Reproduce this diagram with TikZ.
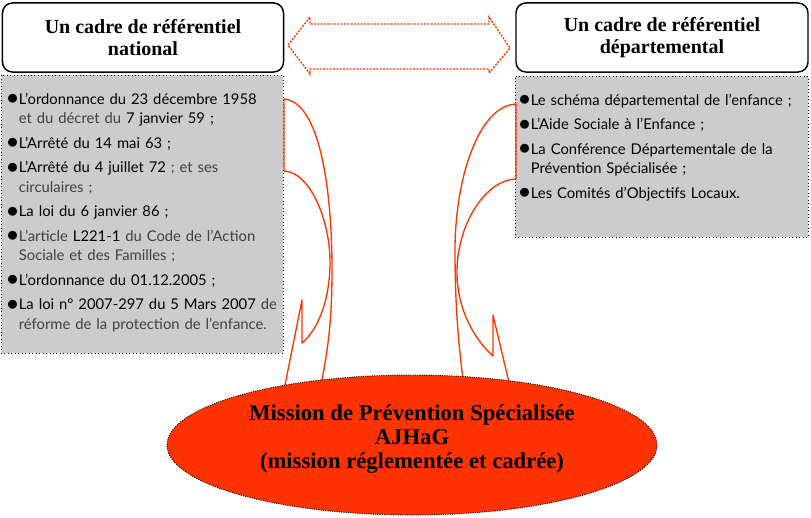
\documentclass[tikz,border=0pt]{standalone}
\usepackage{fontspec}
\setmainfont{Liberation Serif}
\newfontfamily\gillfont{Lato}
\usetikzlibrary{positioning,shapes.geometric}
\definecolor{calred}{RGB}{255,51,0}
\definecolor{lgray}{RGB}{204,204,204}
\definecolor{tgray}{RGB}{64,64,64}
\newcommand{\litem}[1]{\par\hangindent=9pt\hangafter=1\noindent\makebox[9pt][l]{\fontsize{16}{16}\selectfont\raisebox{-0.6pt}{$\bullet$}}#1}
\tikzset{
  hbox/.style={draw=black, line width=1.1pt, rounded corners=7.5pt, fill=white, align=center,
    font=\fontsize{15}{16.5}\selectfont\bfseries},
  lbox/.style={draw=black, dotted, fill=lgray, line width=0.6pt, inner sep=0pt},
  ltxt/.style={anchor=north west, inner sep=0pt, text width=#1, align=left,
    font=\gillfont\fontsize{11.1}{14.6}\selectfont\setlength{\parskip}{3.8pt}},
  cal/.style={calred, line width=1pt, line join=round},
  darr/.style={calred, line width=1pt, dash pattern=on 1.5pt off 1pt},
  mell/.style={ellipse, fill=calred, draw=black, densely dotted, line width=0.7pt, inner sep=0pt},
  mtxt/.style={align=center, font=\fontsize{17}{18}\selectfont\bfseries},
}
\begin{document}
\begin{tikzpicture}[x=0.75pt,y=-0.75pt]
  \useasboundingbox (0,0) rectangle (811,518);
  \node[hbox, minimum width=210.8pt, minimum height=51.8pt] (hnat) at (143,37.5) {Un cadre de référentiel\\national};
  \node[hbox, minimum width=219pt, minimum height=51.8pt] (hdep) at (662,37.5) {Un cadre de référentiel\\départemental};
  \draw[darr] (288,45) -- (310,17) -- (310,24) -- (489,24) -- (489,17) -- (510,48)
    -- (489,73) -- (489,69) -- (310,69) -- (310,74) -- cycle;
  \node[lbox, minimum width=211.5pt, minimum height=208.5pt] (lnat) at (142,214) {};
  \node[lbox, minimum width=219.75pt, minimum height=120.75pt] (ldep) at (661.5,156.5) {};
  \node[ltxt=216pt, below right=3.5pt and 4.5pt of lnat.north west] (tnat) {%
    \litem{L’ordonnance du 23 décembre 1958\newline\textcolor{tgray}{et du décret du} 7 janvier 59 ;}
    \litem{L’Arrêté du 14 mai 63 ;}
    \litem{L’Arrêté du 4 juillet 72 \textcolor{tgray}{; et ses}\newline\textcolor{tgray}{circulaires ;}}
    \litem{La loi du 6 janvier 86 ;}
    \litem{\textcolor{tgray}{L’article} L221-1 \textcolor{tgray}{du Code de l’Action}\newline\textcolor{tgray}{Sociale et des Familles ;}}
    \litem{L’ordonnance du 01.12.2005 ;}
    \litem{La loi n° 2007-297 du 5 Mars 2007 \textcolor{tgray}{de}\newline\textcolor{tgray}{réforme de la protection de l’enfance.}}\par};
  \node[ltxt=216pt, below right=3.5pt and 3pt of ldep.north west] (tdep) {%
    \litem{Le schéma départemental de l’enfance ;}
    \litem{L’Aide Sociale à l’Enfance ;}
    \litem{La Conférence Départementale de la\newline Prévention Spécialisée ;}
    \litem{Les Comités d’Objectifs Locaux.}\par};
  \draw[cal] (283,395) -- (302,300) -- (302,343) .. controls (318,330) and (330,300) .. (330,262)
    .. controls (330,220) and (310,172) .. (284,171) -- (284,99)
    .. controls (320,102) and (332,190) .. (332,270) .. controls (332,330) and (326,360) .. (319,395);
  \draw[cal] (512,395) -- (493,315) -- (493,356) .. controls (475,340) and (457,310) .. (457,272)
    .. controls (457,225) and (485,180) .. (516,179) -- (516,104)
    .. controls (478,106) and (455,180) .. (455,250) .. controls (455,310) and (459,350) .. (465,395);
  \node[mell, minimum width=367.5pt, minimum height=105pt] (miss) at (412,445) {};
  \node[mtxt] (misst) at (412,439) {Mission de Prévention Spécialisée\\AJHaG\\(mission réglementée et cadrée)};
\end{tikzpicture}
\end{document}
